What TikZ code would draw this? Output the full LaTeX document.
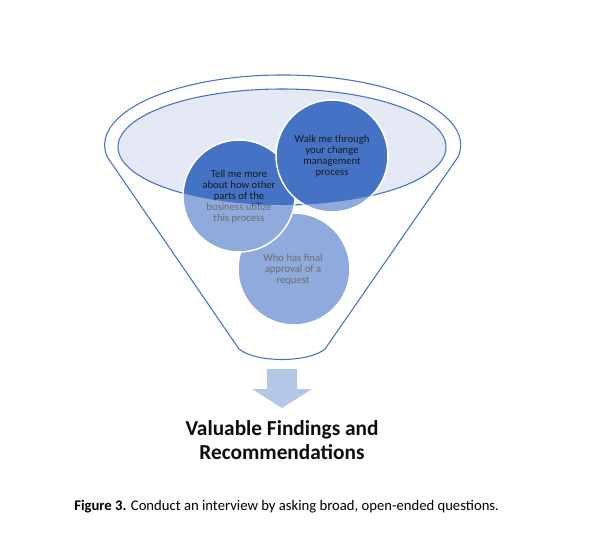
\documentclass[tikz,border=0pt]{standalone}
\usepackage{fontspec}
\setmainfont{Carlito}
\definecolor{dblue}{HTML}{4472C4}
\definecolor{lblue}{HTML}{8FAADC}
\definecolor{efill}{HTML}{E4E9F5}
\definecolor{arrowc}{HTML}{B4C7E7}
\definecolor{darktxt}{HTML}{1A1A1A}
\definecolor{greytxt}{HTML}{6E6E6E}
\begin{document}
\begin{tikzpicture}[x=0.75pt,y=-0.75pt,
  qtext/.style={align=center,font=\fontsize{8}{8.25}\selectfont,inner sep=0pt},
  outline/.style={draw=dblue,line width=0.8pt},
  bubble/.style={line width=1.1pt,draw=white}]
\useasboundingbox (0,0) rectangle (589,543);
% outer funnel
\draw[outline] (458,157) arc[start angle=-9.9,end angle=190.1,x radius=133.5pt,y radius=52.5pt]
  -- (239,349) .. controls (256,363) and (308,363) .. (325,349) -- cycle;
% inner ellipse
\draw[outline,fill=efill] (282,147) ellipse[x radius=123pt,y radius=43.5pt];
% light circles
\path[bubble,fill=lblue] (294,269) circle[radius=42pt];
\path[bubble,fill=lblue] (239,196) circle[radius=42pt];
\path[bubble,fill=lblue] (332,156) circle[radius=42pt];
\node[qtext,text=greytxt] (q3) at (293,270) {Who has final\\approval of a\\request};
\node[qtext,text=greytxt] (q2) at (239,197) {Tell me more\\about how other\\parts of the\\business utilize\\this process};
\node[qtext,text=greytxt] (q1) at (332,156.5) {Walk me through\\your change\\management\\process};
% dark parts inside the ellipse
\begin{scope}
\clip (282,147) ellipse[x radius=123pt,y radius=43.5pt];
\path[bubble,fill=dblue] (294,269) circle[radius=42pt];
\path[bubble,fill=dblue] (239,196) circle[radius=42pt];
\path[bubble,fill=dblue] (332,156) circle[radius=42pt];
\node[qtext,text=darktxt] (q3d) at (293,270) {Who has final\\approval of a\\request};
\node[qtext,text=darktxt] (q2d) at (239,197) {Tell me more\\about how other\\parts of the\\business utilize\\this process};
\node[qtext,text=darktxt] (q1d) at (332,156.5) {Walk me through\\your change\\management\\process};
\end{scope}
% arrow
\fill[arrowc] (267,369) -- (297,369) -- (297,389) -- (312,389) -- (282,408) -- (252,389) -- (267,389) -- cycle;
\node[align=center,font=\fontsize{16}{18}\selectfont\bfseries,text=black!95,inner sep=0pt] (title) at (282,440) {Valuable Findings and\\Recommendations};
\node[anchor=base west,font=\fontsize{11}{13}\selectfont,inner sep=0pt] (cap) at (74,510) {\textbf{Figure 3.} Conduct an interview by asking broad, open-ended questions.};
\end{tikzpicture}
\end{document}
